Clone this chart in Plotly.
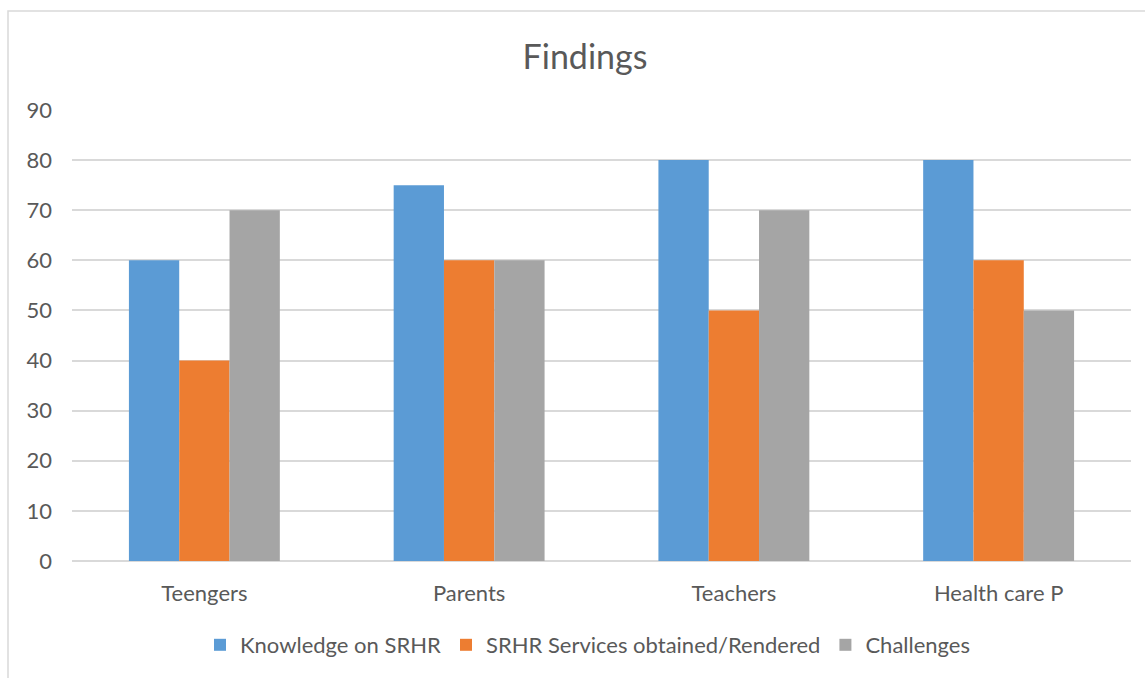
import plotly.graph_objects as go

categories = ["Teengers", "Parents", "Teachers", "Health care P"]
series_names = ["Knowledge on SRHR", "SRHR Services obtained/Rendered", "Challenges"]
knowledge = [60, 75, 80, 80]
services = [40, 60, 50, 60]
challenges = [70, 60, 70, 50]
colors = ["#5B9BD5", "#ED7D31", "#A5A5A5"]
y_ticks = [0, 10, 20, 30, 40, 50, 60, 70, 80, 90]

W, H = 1145, 678
L, R, T, B = 72, 14, 110, 117
pw, ph = W - L - R, H - T - B

def px_x(p):
    return (p - L) / pw

def px_y(p):
    return (H - B - p) / ph

FONT = "Lato"
TXT = "#595959"

fig = go.Figure()
for name, vals, col in zip(series_names, [knowledge, services, challenges], colors):
    fig.add_trace(go.Bar(x=categories, y=vals, name=name, marker=dict(color=col, line=dict(width=0))))

fig.update_layout(
    width=W, height=H,
    margin=dict(l=L, r=R, t=T, b=B),
    paper_bgcolor="white", plot_bgcolor="white",
    barmode="group", bargap=0.43, bargroupgap=0,
    font=dict(family=FONT, color=TXT, size=22),
    title=dict(text="Findings", x=585 / W, xanchor="center", y=1 - 57 / H, yanchor="middle",
               font=dict(family=FONT, size=34, color=TXT)),
    showlegend=True,
    legend=dict(orientation="h", x=px_x(588), xanchor="center", y=px_y(645), yanchor="middle",
                font=dict(family=FONT, size=22, color=TXT), traceorder="normal"),
    xaxis=dict(showgrid=False, showline=False, ticks="", ticklabelstandoff=17,
               tickfont=dict(family=FONT, size=22, color=TXT)),
    yaxis=dict(range=[0, 90], tickvals=y_ticks, showgrid=True, gridcolor="#D9D9D9", gridwidth=1.5,
               zeroline=True, zerolinecolor="#D9D9D9", zerolinewidth=1.5, showline=False,
               ticks="", ticklabelstandoff=19, tickfont=dict(family=FONT, size=22, color=TXT)),
)

fig.add_shape(type="rect", xref="paper", yref="paper",
              x0=px_x(8), x1=px_x(1170), y0=px_y(700), y1=px_y(11),
              line=dict(color="#D9D9D9", width=1.5), fillcolor="rgba(0,0,0,0)", layer="below")

fig.write_html("out.html")
